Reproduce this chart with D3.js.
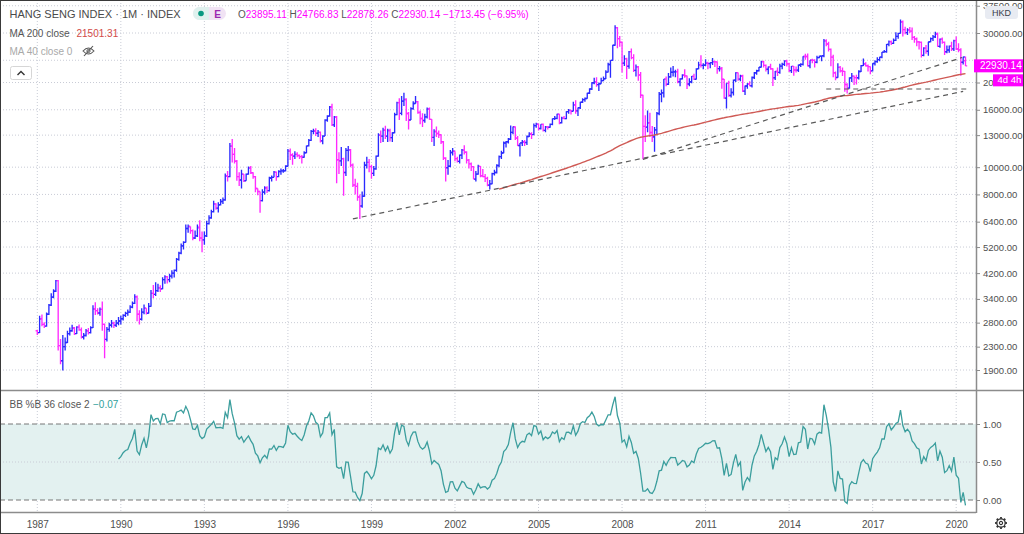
<!DOCTYPE html>
<html><head><meta charset="utf-8">
<script src="https://cdn.jsdelivr.net/npm/d3@7"></script>
<style>
body{margin:0;background:#fff;}
svg{display:block;}
text{font-family:"Liberation Sans",Arial,sans-serif;}
</style></head>
<body><svg id="c" width="1024" height="534"></svg>
<script>
// ---------------- DATA (monthly bars, Jan 1987 .. May 2020) ----------------
const firstYear = 1987;
const firstOpen = 2620;
const closes = [
2580,2890,2760,2720,3000,3230,3450,3620,3950,2320,2050,2302,
2380,2560,2620,2680,2560,2700,2640,2490,2520,2620,2580,2687,
3130,3090,3030,3120,2760,2440,2650,2740,2790,2740,2790,2837,
2890,2970,3020,3050,3180,3280,3460,3000,2880,3050,3150,3025,
3200,3560,3530,3640,3720,3690,3980,4080,3980,4100,4200,4297,
4700,4950,5250,5400,6050,6150,5950,5600,5700,6100,5600,5512,
5700,6300,6600,6950,7400,7150,7350,7550,7650,9300,9250,11888,
11100,10500,9250,9000,9450,8950,9450,9950,9550,9250,8400,8191,
7600,8150,8450,8250,9150,9200,9600,9250,9650,9700,9700,10073,
11400,11050,10950,11100,11000,10900,10850,11250,11900,12450,13400,13451,
13200,13300,12400,12900,14700,15196,16365,14135,15049,10623,10527,10723,
9570,11480,11520,10170,8640,8540,7830,7275,7883,10155,10400,10049,
9507,9860,10942,13000,12900,13530,12900,13500,12730,13256,15377,16962,
15532,17170,17407,15519,14713,16155,16840,17097,15648,14895,14650,15095,
16102,14787,12761,13387,13174,13043,12316,10768,9951,10073,11279,11397,
10725,10482,11033,11497,11302,10599,10268,10043,9072,9442,10070,9321,
9258,9123,8634,8718,9487,9577,10134,10908,11230,12190,12317,12576,
13289,13918,12681,11942,12198,12286,12238,12850,13120,13054,14060,14230,
13721,14195,13516,13908,13867,14201,14880,14903,15429,14386,14937,14876,
15753,15918,15805,16661,15857,16267,17011,17392,17543,18324,18960,19965,
20107,19652,19801,20319,20635,21773,23185,23984,27143,31352,28643,27813,
23456,24332,22849,25755,24533,22102,22731,21262,18016,13969,13888,14387,
13278,12812,13576,15521,18171,18379,20573,19724,20955,21752,21822,21873,
20122,20609,21239,21108,19765,20129,21030,20537,22358,23096,23008,23035,
23447,23338,23528,23720,23684,22398,22440,20535,17592,19864,17989,18434,
20390,21680,20556,21094,18630,19441,19796,19483,20840,21642,22030,22657,
23730,23020,22300,22737,22392,20803,21884,21731,22860,23206,23881,23306,
22035,22837,22151,22133,23082,23191,24757,24742,22933,23998,23987,23605,
24507,24823,24901,28133,27424,26250,24636,21671,20846,22640,21996,21914,
19683,19112,20777,21067,20815,20794,21891,22977,23297,22935,22790,22001,
23361,23741,24112,24615,25661,25765,27324,27970,27554,28246,29177,29919,
32887,30845,30093,30808,30469,28955,28583,27889,27789,24980,26507,25846,
27931,28633,29051,29699,26901,28543,27778,25725,26092,26907,26346,28190,
26313,26130,23603,24644,22930.14
];
const highs = [
2640,2960,2990,2810,3040,3260,3560,3680,3970,3968,2450,2530,
2480,2620,2690,2750,2700,2720,2760,2690,2570,2660,2680,2720,
3230,3310,3150,3170,3330,2780,2700,2800,2860,2820,2860,2930,
2960,3000,3060,3120,3230,3330,3530,3500,3100,3150,3250,3150,
3290,3660,3810,3900,3850,3800,4060,4130,4100,4180,4300,4330,
4750,5000,5350,5450,6250,6250,6150,6000,5950,6250,6470,5900,
5900,6450,6750,7050,7600,7450,7500,7700,7800,9500,9700,12200,
12599,11700,10600,9600,9800,9450,9500,10050,10100,9600,9300,8400,
8200,8350,8550,8550,9250,9350,9700,9650,9750,9900,9850,10150,
11600,11650,11200,11400,11300,11100,11050,11400,11950,12600,13550,13700,
13750,13550,13400,13000,14800,15300,16500,16820,15200,15200,11300,11800,
10800,11700,11900,11600,10300,9100,8800,8000,8200,10450,10900,10700,
10200,10100,11000,13200,13500,13800,14050,13700,13700,13300,15600,17100,
17600,17900,18398,17600,15700,16350,17150,17900,17200,15900,15550,15500,
16300,16300,14800,13650,13950,13500,13100,12400,10850,10600,11500,11700,
11400,10900,11100,11600,11975,11400,10700,10400,10100,9700,10200,10100,
9850,9450,9250,9000,9550,9800,10250,11000,11450,12350,12400,12700,
14058,13950,13950,12900,12200,12500,12500,12950,13300,13300,14300,14400,
14300,14200,14300,14000,14000,14300,14900,15200,15500,15500,15100,15200,
15800,16100,16000,17100,17300,16300,17100,17600,17700,18400,19100,20050,
20800,20900,20000,20800,21000,22100,23500,24000,27250,31958,31500,29300,
28000,25000,24500,25900,26400,25200,23200,22900,21800,18100,15300,15900,
15600,14000,13900,15700,18500,18900,20600,21000,21600,22621,22900,22200,
22400,20700,21400,22300,21200,20700,21100,21500,22500,23700,24989,23400,
24200,23700,23600,24469,23900,23800,22900,22700,20600,19900,20300,19100,
20500,21760,21700,21300,21300,19500,19900,20200,21000,21800,22200,22700,
23900,23900,23200,22800,23300,22500,22000,22600,23300,23500,24000,24100,
23500,22900,22900,22800,23200,23400,24800,25300,25362,24000,24300,24200,
24900,24900,24950,28588,28500,27900,26400,25100,21900,23400,22900,22600,
22000,19900,20900,21600,21200,21300,22100,23100,24364,23600,23200,22800,
23400,24000,24600,24700,25700,26100,27400,28200,28200,28700,30200,30000,
33484,33200,31600,31200,31500,31400,29300,28900,28100,28000,26700,27200,
27950,28900,29500,30280,30100,28700,28900,28000,27100,27100,27900,28400,
29175,27600,26500,24700,24766.83
];
const lows = [
2530,2570,2720,2680,2710,2980,3210,3420,3600,2230,1990,1894,
2230,2370,2520,2600,2530,2550,2620,2460,2440,2500,2540,2560,
2680,2980,2990,2960,2620,2093,2400,2600,2690,2680,2700,2740,
2760,2850,2930,2960,3030,3150,3260,2830,2760,2850,3000,2990,
3020,3190,3420,3480,3600,3600,3680,3850,3860,3900,4020,4050,
4250,4650,4900,5100,5400,5850,5800,5500,5550,5650,5450,4978,
5300,5650,6250,6550,6900,7050,6900,7300,7400,7600,8900,9200,
10400,10300,8950,8580,8400,8850,8950,9400,9450,9100,8150,7950,
6890,7550,8000,8100,8200,8900,9200,8950,9200,9400,9550,9650,
10050,10600,10200,10700,10850,10700,10300,10800,11200,11850,12400,13100,
12900,12800,12250,12055,12900,14500,15100,14000,13900,8775,9450,10100,
7910,9300,10500,10000,8500,8000,7600,6545,7180,7850,9900,9600,
9100,9300,9800,10900,12200,12300,12600,12300,12350,12300,13200,15300,
14700,15300,16500,14600,13600,14700,16000,16800,15500,14200,13900,14400,
14900,14750,12300,11900,12800,12700,12100,10600,8894,9400,10000,11000,
10500,10400,10300,10700,11100,10300,9900,9700,9050,8900,9400,9200,
9200,8850,8550,8332,8700,9350,9500,10000,10700,11200,11750,12150,
12500,13100,12500,11900,10918,11900,11900,12000,12800,12600,13000,13800,
13500,13600,13400,13300,13600,13800,14100,14700,14800,14200,14300,14800,
14800,15500,15400,15800,15500,15200,16100,16900,17100,17500,18200,18800,
19700,19300,18660,19800,20200,20600,21700,20783,23900,27000,26500,26800,
21709,22900,20572,22400,24200,21800,21000,20300,17637,10676,12300,13300,
12800,12300,11345,13000,15300,17000,17700,19400,19600,20800,21000,20900,
19900,19400,20500,20800,18971,19400,19900,20400,20500,22300,22600,22300,
22900,22300,22500,23100,22700,21500,21900,19000,17500,16170,17800,17700,
18000,20100,20300,20200,18500,18056,19000,19400,19200,20600,21300,21900,
22600,22600,21900,21400,22200,19426,20400,21100,21500,22300,22900,22800,
21800,21600,21137,21700,21800,22700,23000,24100,22800,22500,23400,22600,
23400,24400,23800,24600,26900,25800,22836,20865,20368,20800,21700,21100,
18534,18279,19000,20100,19600,19694,20500,21800,22900,22800,21900,21400,
21900,23000,23500,23800,24400,25500,25500,26900,27200,27400,28100,28600,
29900,29129,29700,29500,30000,28300,27700,26900,26200,24540,24800,25300,
24900,27800,28100,28800,26800,26600,27500,25064,25400,25500,25900,25900,
26100,25600,21139,23200,22878.26
];
// last bar as shown in the legend
const lastBar = {o:23895.11, h:24766.83, l:22878.26, c:22930.14, chg:-1713.45, pct:-6.95};
const maValueText = "21501.31";
const pctBValueText = "\u22120.07";
const priceTicks = [1900,2300,2800,3400,4200,5200,6400,8000,10000,13000,16000,20000,24000,30000,37500];
const hiddenPriceLabels = [24000]; // covered by the last-price label in the reference
const pctBTicks = [0, 0.5, 1];
const yearTicks = [1987,1990,1993,1996,1999,2002,2005,2008,2011,2014,2017,2020];
// drawn trend lines: [bar index, price] pairs
const trendLines = [
  {i0:136, p0:6550,  i1:399, p1:18600},
  {i0:261, p0:10660, i1:398.5, p1:24540},
  {i0:340, p0:18970, i1:402, p1:18970}
];
const maLength = 200, bbLength = 36, bbMult = 2;

// ---------------- LAYOUT ----------------
const svg = d3.select('#c');
const plotR = 976, mainBot = 390, subTop = 391, subBot = 512;
const x = d3.scaleLinear().domain([0, 396]).range([37.3, 956.2]);
const y = d3.scaleLog().domain([1900, 30000]).range([370, 33]);
const yb = d3.scaleLinear().domain([0, 1]).range([500, 424]);
const gridColor = '#c9ccd6';
const blue = '#2a2aff', pink = '#ff2aff';

const defs = svg.append('defs');
defs.append('clipPath').attr('id','cm').append('rect').attr('x',0).attr('y',0).attr('width',plotR).attr('height',mainBot);
defs.append('clipPath').attr('id','cs').append('rect').attr('x',0).attr('y',subTop).attr('width',plotR).attr('height',subBot-subTop);

// vertical grid
svg.append('g').selectAll('line').data(yearTicks).join('line')
  .attr('x1', d => x((d-firstYear)*12)).attr('x2', d => x((d-firstYear)*12))
  .attr('y1', 0).attr('y2', subBot)
  .attr('stroke', gridColor).attr('stroke-dasharray','1,2');
// horizontal grid (main)
svg.append('g').selectAll('line').data(priceTicks).join('line')
  .attr('x1',0).attr('x2',plotR).attr('y1',d=>y(d)).attr('y2',d=>y(d))
  .attr('stroke', gridColor).attr('stroke-dasharray','1,2');

// ---------------- SUB PANE (BB %B) ----------------
const sub = svg.append('g').attr('clip-path','url(#cs)');
sub.append('rect').attr('x',0).attr('width',plotR).attr('y',yb(1)).attr('height',yb(0)-yb(1)).attr('fill','#e3f1f0');
sub.append('line').attr('x1',0).attr('x2',plotR).attr('y1',yb(0.5)).attr('y2',yb(0.5)).attr('stroke',gridColor).attr('stroke-dasharray','1,2');
[0,1].forEach(v => sub.append('line').attr('x1',0).attr('x2',plotR).attr('y1',yb(v)).attr('y2',yb(v))
  .attr('stroke','#777').attr('stroke-dasharray','5,3'));

const pctB = [];
for (let i = bbLength-1; i < closes.length; i++) {
  const w = closes.slice(i-bbLength+1, i+1);
  const m = d3.mean(w);
  const sd = Math.sqrt(d3.mean(w, v => (v-m)*(v-m)));
  const up = m + bbMult*sd, lo = m - bbMult*sd;
  pctB.push({i, v:(closes[i]-lo)/(up-lo)});
}
sub.append('path').datum(pctB)
  .attr('d', d3.line().x(d=>x(d.i)).y(d=>yb(d.v)))
  .attr('fill','none').attr('stroke','#3b9e9d').attr('stroke-width',1.3);

// ---------------- MAIN PANE ----------------
const main = svg.append('g').attr('clip-path','url(#cm)');
const n = closes.length;
const bars = closes.map((c,i) => ({
  i, c, h: highs[i], l: lows[i],
  o: i === 0 ? firstOpen : (i === n-1 ? lastBar.o : closes[i-1])
}));
main.append('g').selectAll('path').data(bars).join('path')
  .attr('d', d => {
    const cx = x(d.i);
    return `M${cx},${y(d.h)}V${y(d.l)}M${cx-1.7},${y(d.o)}H${cx}M${cx},${y(d.c)}H${cx+1.7}`;
  })
  .attr('fill','none')
  .attr('stroke', d => d.c >= d.o ? blue : pink)
  .attr('stroke-width', 1.35);

// MA 200
const ma = [];
for (let i = maLength-1; i < n; i++) ma.push({i, v: d3.mean(closes.slice(i-maLength+1, i+1))});
main.append('path').datum(ma)
  .attr('d', d3.line().x(d=>x(d.i)).y(d=>y(d.v)))
  .attr('fill','none').attr('stroke','#cf5a55').attr('stroke-width',1.4);

// trend lines
main.append('g').selectAll('line').data(trendLines).join('line')
  .attr('x1', d=>x(d.i0)).attr('y1', d=>y(d.p0)).attr('x2', d=>x(d.i1)).attr('y2', d=>y(d.p1))
  .attr('stroke','#5a5a5a').attr('stroke-width',1.2).attr('stroke-dasharray','5,4');

// ---------------- FRAME / AXES ----------------
svg.append('line').attr('x1',0).attr('x2',1024).attr('y1',mainBot+0.5).attr('y2',mainBot+0.5).attr('stroke','#8c8c8c').attr('stroke-width',1.5);
svg.append('line').attr('x1',0).attr('x2',plotR).attr('y1',subBot+0.5).attr('y2',subBot+0.5).attr('stroke','#8c8c8c').attr('stroke-width',1.5);
svg.append('line').attr('x1',plotR+0.5).attr('x2',plotR+0.5).attr('y1',0).attr('y2',subBot+1).attr('stroke','#8c8c8c').attr('stroke-width',1.5);

const yAx = svg.append('g').attr('transform',`translate(${plotR},0)`)
  .call(d3.axisRight(y).tickValues(priceTicks)
    .tickFormat(d => hiddenPriceLabels.includes(d) ? '' : d3.format('.2f')(d)).tickSize(4).tickPadding(3));
const ybAx = svg.append('g').attr('transform',`translate(${plotR},0)`)
  .call(d3.axisRight(yb).tickValues(pctBTicks).tickFormat(d3.format('.2f')).tickSize(4).tickPadding(3));
[yAx, ybAx].forEach(g => {
  g.select('.domain').remove();
  g.selectAll('line').attr('stroke','#8c8c8c');
  g.selectAll('text').attr('fill','#4f4f4f').style('font-size','9.5px').style('font-family','"Liberation Sans",Arial,sans-serif');
});
const xAx = svg.append('g').attr('transform',`translate(0,${subBot})`)
  .call(d3.axisBottom(x).tickValues(yearTicks.map(d=>(d-firstYear)*12)).tickFormat(i => String(firstYear + i/12)).tickSize(0).tickPadding(9));
xAx.select('.domain').remove();
xAx.selectAll('text').attr('fill','#4f4f4f').style('font-size','10px').style('font-family','"Liberation Sans",Arial,sans-serif');

// HKD box
svg.append('rect').attr('x',985).attr('y',6).attr('width',33).attr('height',13).attr('rx',3).attr('fill','#e8ebf2');
svg.append('text').attr('x',1001.5).attr('y',15.5).attr('text-anchor','middle').attr('font-size',9).attr('fill','#3a3e4a').text('HKD');

// price label + countdown
svg.append('rect').attr('x',974).attr('y',y(lastBar.c)-6.5).attr('width',50).attr('height',13).attr('fill','#ff00ff');
svg.append('text').attr('x',980).attr('y',y(lastBar.c)+3.5).attr('font-size',10).attr('fill','#fff').text(lastBar.c.toFixed(2));
svg.append('rect').attr('x',993).attr('y',y(lastBar.c)+8.5).attr('width',31).attr('height',12).attr('fill','#ff00ff');
svg.append('text').attr('x',997.5).attr('y',y(lastBar.c)+17.5).attr('font-size',9.5).attr('fill','#fff').text('4d 4h');

// ---------------- LEGENDS ----------------
svg.append('text').attr('x',9.5).attr('y',17.5).attr('font-size',11).attr('fill','#4a4a4a').text('HANG SENG INDEX \u00b7 1M \u00b7 INDEX');
// badge
svg.append('rect').attr('x',193).attr('y',7).attr('width',33).attr('height',13).attr('rx',6.5).attr('fill','#f1e3f4');
svg.append('path').attr('d','M209,7H199.5A6.5,6.5 0 0 0 199.5,20H209Z').attr('fill','#dff1ee');
svg.append('circle').attr('cx',201).attr('cy',13.5).attr('r',2.8).attr('fill','#089981');
svg.append('text').attr('x',217.5).attr('y',17.5).attr('text-anchor','middle').attr('font-size',10).attr('font-weight','bold').attr('fill','#9c27b0').text('E');
// OHLC
const fmt = d3.format('.2f');
const ohlc = svg.append('text').attr('x',238).attr('y',17.5).attr('font-size',10);
[['O',lastBar.o],['H',lastBar.h],['L',lastBar.l],['C',lastBar.c]].forEach(([k,v],j) => {
  ohlc.append('tspan').attr('fill','#555').text((j?' ':'')+k);
  ohlc.append('tspan').attr('fill','#ff00ff').text(fmt(v));
});
ohlc.append('tspan').attr('fill','#ff00ff').text(' \u2212' + fmt(-lastBar.chg) + ' (\u2212' + fmt(-lastBar.pct) + '%)');

const l2 = svg.append('text').attr('x',9.5).attr('y',36.5).attr('font-size',10);
l2.append('tspan').attr('fill','#555').text('MA 200 close ');
l2.append('tspan').attr('x',76.5).attr('fill','#d24a48').text(maValueText);
svg.append('text').attr('x',9.5).attr('y',54.5).attr('font-size',10).attr('fill','#a9a9a9').text('MA 40 close 0');
// eye (hidden) icon
svg.append('path').attr('d','M83,51 Q88.5,45 94,51 Q88.5,57 83,51Z').attr('fill','none').attr('stroke','#555').attr('stroke-width',1.1);
svg.append('circle').attr('cx',88.5).attr('cy',51).attr('r',1.6).attr('fill','none').attr('stroke','#555').attr('stroke-width',1);
svg.append('line').attr('x1',84).attr('y1',56).attr('x2',93).attr('y2',46).attr('stroke','#555').attr('stroke-width',1.1);
// collapse button
svg.append('rect').attr('x',10.5).attr('y',66.5).attr('width',21).attr('height',13).attr('rx',2).attr('fill','#fff').attr('stroke','#d6d6d6');
svg.append('path').attr('d','M17.5,75 L21,71.5 L24.5,75').attr('fill','none').attr('stroke','#333').attr('stroke-width',1.4);

const lb = svg.append('text').attr('x',9.5).attr('y',407.5).attr('font-size',10);
lb.append('tspan').attr('fill','#555').text('BB %B 36 close 2');
lb.append('tspan').attr('x',93).attr('fill','#2f9e9a').text(pctBValueText);

// gear icon
const gear = svg.append('g').attr('transform','translate(1001,523)');
d3.range(8).forEach(k => {
  const a = k*Math.PI/4;
  gear.append('line').attr('x1',Math.cos(a)*3.5).attr('y1',Math.sin(a)*3.5).attr('x2',Math.cos(a)*6).attr('y2',Math.sin(a)*6)
    .attr('stroke','#333').attr('stroke-width',1.8);
});
gear.append('circle').attr('r',4.2).attr('fill','#fff').attr('stroke','#333').attr('stroke-width',1.3);
gear.append('circle').attr('r',1.6).attr('fill','none').attr('stroke','#333').attr('stroke-width',1.1);

// outer frame
svg.append('rect').attr('x',0.5).attr('y',0.5).attr('width',1023).attr('height',533).attr('fill','none').attr('stroke','#3a3a3a').attr('stroke-width',1);
</script>
</body></html>
